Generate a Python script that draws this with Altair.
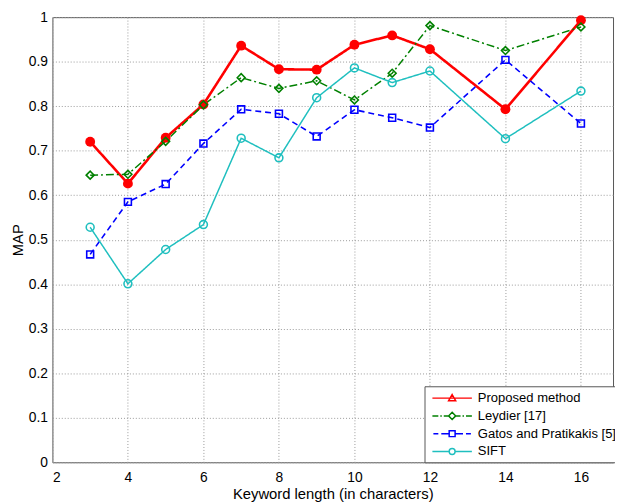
import altair as alt
import pandas as pd

# ---- data ----
lengths = [3, 4, 5, 6, 7, 8, 9, 10, 11, 12, 14, 16]
proposed = [0.720, 0.626, 0.729, 0.804, 0.936, 0.883, 0.882, 0.938, 0.959, 0.928, 0.793, 0.993]
leydier = [0.645, 0.647, 0.721, 0.803, 0.864, 0.840, 0.857, 0.814, 0.874, 0.981, 0.925, 0.978]
gatos = [0.467, 0.585, 0.625, 0.716, 0.793, 0.783, 0.732, 0.792, 0.774, 0.752, 0.904, 0.761]
sift = [0.528, 0.401, 0.478, 0.534, 0.728, 0.684, 0.819, 0.886, 0.853, 0.879, 0.727, 0.834]

series_names = ["Proposed method", "Leydier [17]", "Gatos and Pratikakis [5]", "SIFT"]
series_values = [proposed, leydier, gatos, sift]

x_ticks = [2, 4, 6, 8, 10, 12, 14, 16]
y_ticks = [0, 0.1, 0.2, 0.3, 0.4, 0.5, 0.6, 0.7, 0.8, 0.9, 1]

# ---- styles ----
colors = ["#ff0000", "#008000", "#0000ff", "#1fbfbf"]
dashes = [[1, 0], [8, 3, 2, 3], [6, 4], [1, 0]]
widths = [2.6, 1.5, 1.6, 1.5]
shapes = ["circle", "diamond", "square", "circle"]
filled = [True, False, False, False]
sizes = [100, 64, 49, 64]

# legend glyphs (line + marker), written in px, scaled to the symbol's unit box
LEG_SYM = 14.0  # nominal symbol size in px


def glyph(path_px):
    s = LEG_SYM / 2.0
    toks = []
    for t in path_px.split():
        if t.isalpha():
            toks.append(t)
        else:
            toks.append(f"{float(t) / s:.4f}")
    return " ".join(toks)


_a = 3.0 / (LEG_SYM / 2.0)
legend_paths = [
    glyph("M -20 0 H 20 M 0 -3.6 L 3.6 2.6 L -3.6 2.6 Z"),
    glyph("M -20 0 H -14 M -12 0 H -10.5 M -8.5 0 H -3.6 "
          "M 0 -3.6 L 3.6 0 L 0 3.6 L -3.6 0 Z "
          "M 3.6 0 H 8.5 M 10.5 0 H 12 M 14 0 H 20"),
    glyph("M -19 0 H -14 M -11 0 H -3 M -3 -3 H 3 V 3 H -3 Z "
          "M 3 0 H 11 M 14 0 H 19"),
    glyph("M -20 0 H -3 M 3 0 H 20")
    + f" M {_a:.4f} 0 A {_a:.4f} {_a:.4f} 0 1 1 {-_a:.4f} 0 A {_a:.4f} {_a:.4f} 0 1 1 {_a:.4f} 0",
]

rows = []
for name, vals in zip(series_names, series_values):
    for x, v in zip(lengths, vals):
        rows.append({"len": x, "map": v, "series": name})
df = pd.DataFrame(rows)

x_enc = alt.X("len:Q", scale=alt.Scale(domain=[2, 16.85], nice=False, zero=False),
              axis=alt.Axis(values=x_ticks, title="Keyword length (in characters)",
                            labelPadding=8, titlePadding=3))
y_enc = alt.Y("map:Q", scale=alt.Scale(domain=[0, 1], nice=False),
              axis=alt.Axis(values=y_ticks, format="~g", title="MAP",
                            labelPadding=5, titlePadding=3))

base = alt.Chart(df)
layers = []
for i, name in enumerate(series_names):
    sub = base.transform_filter(alt.datum.series == name)
    layers.append(sub.mark_line(color=colors[i], strokeDash=dashes[i],
                                strokeWidth=widths[i]).encode(x=x_enc, y=y_enc))
for i, name in enumerate(series_names):
    sub = base.transform_filter(alt.datum.series == name)
    layers.append(sub.mark_point(shape=shapes[i], filled=filled[i], color=colors[i],
                                 size=sizes[i], strokeWidth=1.6, opacity=1).encode(x=x_enc, y=y_enc))

leg = dict(title=None, orient="none", legendX=377, legendY=374,
           symbolSize=LEG_SYM ** 2, symbolStrokeWidth=1.5, symbolOffset=16,
           labelFontSize=13.2, labelOffset=18, labelLimit=400, rowPadding=3,
           padding=4, fillColor="white", strokeColor="#555",
           symbolFillColor="transparent")

legend_layer = base.transform_filter("false").mark_point(filled=False, opacity=1).encode(
    x=x_enc, y=y_enc,
    color=alt.Color("series:N", scale=alt.Scale(domain=series_names, range=colors),
                    legend=alt.Legend(**leg)),
    shape=alt.Shape("series:N", scale=alt.Scale(domain=series_names, range=legend_paths),
                    legend=alt.Legend(**leg)),
)
layers.append(legend_layer)

chart = alt.layer(*layers).properties(
    width=568, height=451,
    autosize=alt.AutoSizeParams(type="none"),
    padding={"left": 45, "top": 6, "right": 2, "bottom": 39},
).configure(font="Liberation Sans").configure_view(
    stroke="#555", strokeWidth=1
).configure_axis(
    labelFontSize=14, titleFontSize=15, labelColor="black", titleColor="black",
    titleFontWeight="normal", grid=True, gridColor="#999", gridDash=[1, 2],
    gridOpacity=1, domain=False, ticks=False,
).configure_legend(labelColor="black")

chart.save("out.html", embed_options={"renderer": "svg", "actions": False})
